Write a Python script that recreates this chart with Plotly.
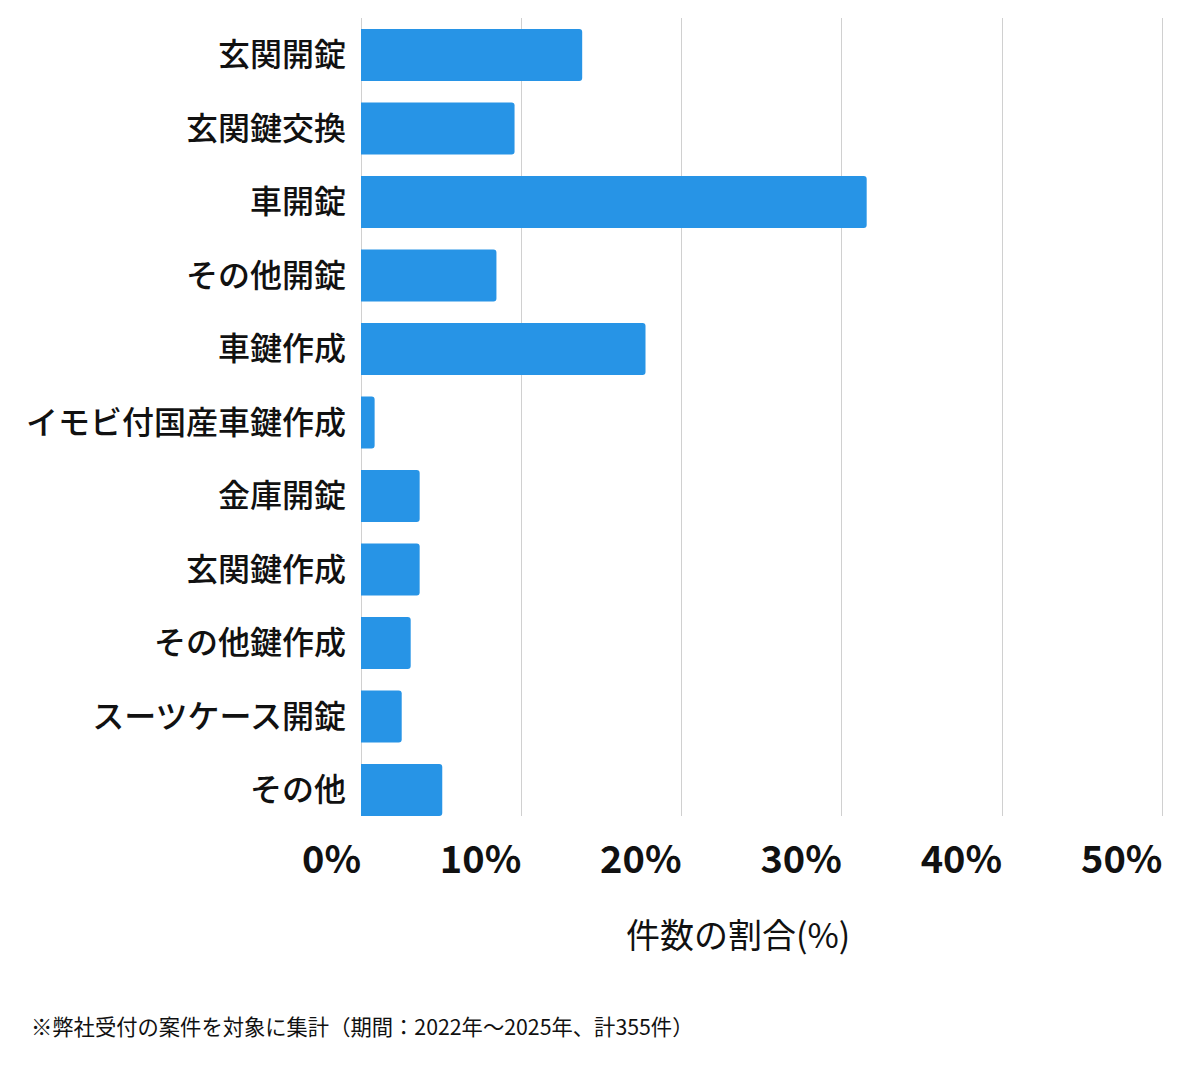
import plotly.graph_objects as go

# 件数 (計355件) -> 割合
categories = ["玄関開錠", "玄関鍵交換", "車開錠", "その他開錠", "車鍵作成",
              "イモビ付国産車鍵作成", "金庫開錠", "玄関鍵作成", "その他鍵作成",
              "スーツケース開錠", "その他"]
counts = [49, 34, 112, 30, 63, 3, 13, 13, 11, 9, 18]
total = 355
shares = [round(c / total * 100, 2) for c in counts]

tick_vals = [0, 10, 20, 30, 40, 50]
tick_text = ["0%", "10%", "20%", "30%", "40%", "50%"]

font_jp = "Noto Sans CJK JP"

fig = go.Figure()
fig.add_trace(go.Bar(
    x=shares, y=categories, orientation="h",
    marker=dict(color="#2794E6", cornerradius=3, line=dict(width=0)),
    hoverinfo="x+y",
))

# page body has an 8px margin, so the figure is a little smaller and shifted
fig.update_layout(
    width=1192, height=1061,
    margin=dict(l=353, r=36, t=10, b=253),
    paper_bgcolor="white", plot_bgcolor="white",
    bargap=0.2925, showlegend=False,
    font=dict(family=font_jp, color="#111111"),
)

# range a bit past 50 so the 50% grid line is not clipped at the edge
fig.update_xaxes(
    range=[0, 50.1], tickvals=tick_vals, ticktext=tick_text,
    ticklabelposition="outside left", ticklabelstandoff=18,
    tickfont=dict(size=38, family=font_jp, weight="bold", color="#111111"),
    showgrid=True, gridcolor="#d0d0d0", gridwidth=1,
    zeroline=True, zerolinecolor="#d0d0d0", zerolinewidth=1,
    showline=False, ticks="", fixedrange=True,
)
# last bar sits right on the bottom edge of the plot area
fig.update_yaxes(
    categoryorder="array", categoryarray=categories, range=[10.354, -0.503],
    tickfont=dict(size=32, weight=500, color="#111111"),
    ticklabelstandoff=14, ticks="", showgrid=False, showline=False,
    fixedrange=True,
)

fig.add_annotation(
    text="件数の割合(%)", xref="paper", yref="paper",
    x=0.4696, y=-0.147, xanchor="center", yanchor="middle",
    showarrow=False, font=dict(size=34, color="#111111"),
)
fig.add_annotation(
    text="※弊社受付の案件を対象に集計（期間：2022年～2025年、計355件）",
    xref="paper", yref="paper", x=-0.414, y=-0.262,
    xanchor="left", yanchor="middle", showarrow=False,
    font=dict(size=21.3, color="#111111"),
)

fig.write_html("out.html")
